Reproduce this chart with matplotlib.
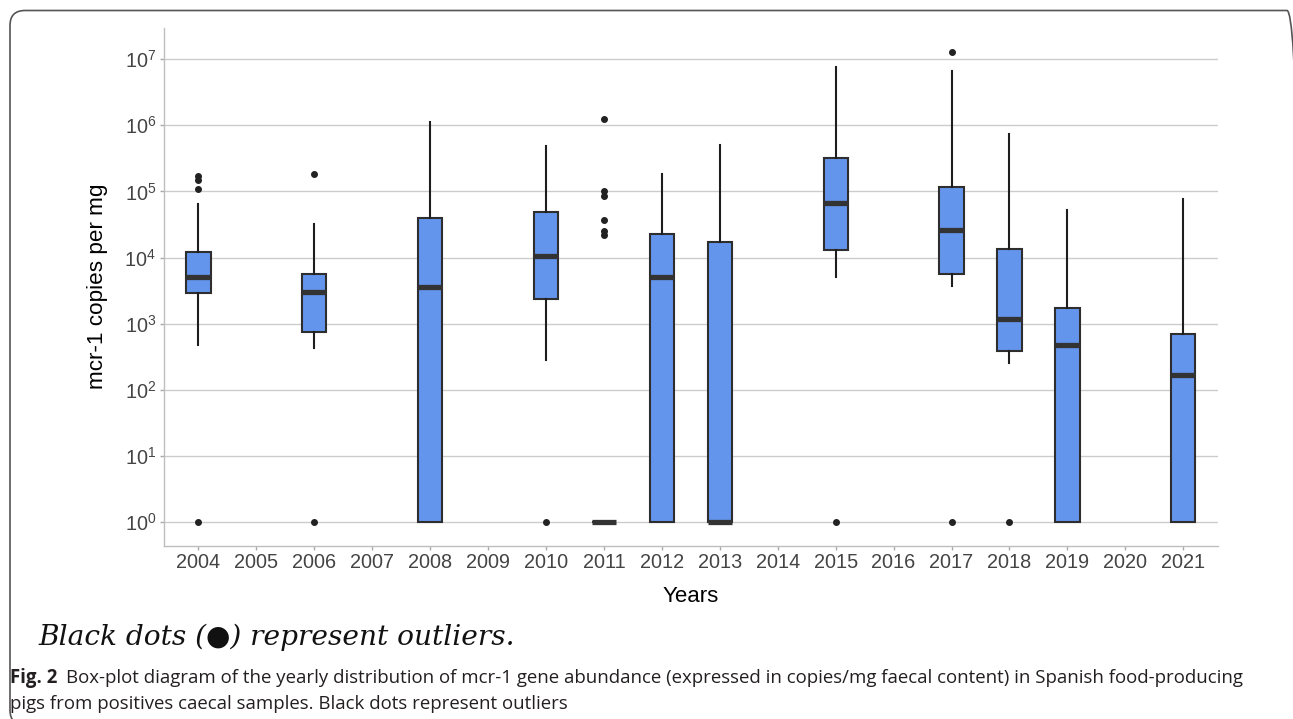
import matplotlib
matplotlib.use("Agg")
import matplotlib.pyplot as plt
import numpy as np
from matplotlib.patches import FancyBboxPatch
from matplotlib.transforms import IdentityTransform

plt.rcParams['font.family'] = ['Liberation Sans', 'DejaVu Sans']
plt.rcParams['mathtext.default'] = 'regular'

# x axis categories (every year, including years without samples)
years = ['2004', '2005', '2006', '2007', '2008', '2009', '2010', '2011', '2012',
         '2013', '2014', '2015', '2016', '2017', '2018', '2019', '2020', '2021']

# box-plot summaries, copies per mg
box_years = ['2004', '2006', '2008', '2010', '2011', '2012', '2013', '2015',
             '2017', '2018', '2019', '2021']
whisker_low = [475, 435, 1, 283, 1, 1, 1, 5100, 3700, 255, 1, 1]
q1 = [2900, 760, 1, 2400, 1, 1, 1, 13000, 5600, 390, 1, 1]
median = [5100, 2970, 3600, 10500, 1, 5000, 1, 67000, 26000, 1180, 470, 170]
q3 = [12000, 5600, 39000, 49000, 1, 22400, 17000, 320000, 117000, 13500, 1730, 690]
whisker_high = [64000, 32000, 1100000, 490000, 1, 180000, 510000, 7600000,
                6600000, 740000, 53000, 76000]
outliers = [
    [1, 1.07e5, 1.5e5, 1.7e5],
    [1, 1.8e5],
    [],
    [1],
    [2.2e4, 2.5e4, 3.7e4, 8.5e4, 1.02e5, 1.24e6],
    [],
    [],
    [1],
    [1, 1.3e7],
    [1],
    [],
    [],
]

W, H = 1293, 719
fig = plt.figure(figsize=(W / 100, H / 100), dpi=100)
ax = fig.add_axes([163.7 / W, 1 - 545.7 / H, (1218 - 163.7) / W, (545.7 - 28) / H])

stats = []
for i in range(len(box_years)):
    stats.append(dict(med=median[i], q1=q1[i], q3=q3[i],
                      whislo=whisker_low[i], whishi=whisker_high[i],
                      fliers=outliers[i], label=box_years[i]))
positions = [years.index(y) for y in box_years]

ax.bxp(stats, positions=positions, widths=0.42, patch_artist=True,
       showcaps=False,
       boxprops=dict(facecolor='#6495ED', edgecolor='#2E2E2E', linewidth=1.5),
       medianprops=dict(color='#333333', linewidth=3.8, solid_capstyle='butt'),
       whiskerprops=dict(color='#1E1E1E', linewidth=1.5),
       flierprops=dict(marker='o', markersize=4, markerfacecolor='#222222',
                       markeredgecolor='#222222'),
       zorder=3)

ax.set_yscale('log')
allvals = [v for s in (whisker_low, whisker_high, sum(outliers, [])) for v in s]
lo, hi = np.log10(min(allvals)), np.log10(max(allvals))
pad = 0.05 * (hi - lo)
ax.set_ylim(10 ** (lo - pad), 10 ** (hi + pad))
ax.set_xlim(-0.6, len(years) - 0.4)

ax.set_yticks([10.0 ** k for k in range(8)])
ax.set_yticklabels([r'$10^{%d}$' % k for k in range(8)])
ax.yaxis.set_minor_locator(matplotlib.ticker.NullLocator())
ax.set_xticks(range(len(years)))
ax.set_xticklabels(years)

ax.grid(axis='y', color='#CCCCCC', linewidth=1.0, zorder=0)
ax.set_axisbelow(True)
for side in ('top', 'right'):
    ax.spines[side].set_visible(False)
for side in ('left', 'bottom'):
    ax.spines[side].set_color('#BEBEBE')
    ax.spines[side].set_linewidth(1.0)
ax.tick_params(axis='both', length=3, width=1.0, color='#AAAAAA',
               labelcolor='#444444', labelsize=14.3)
ax.tick_params(axis='x', pad=2.5)
ax.tick_params(axis='y', pad=2.5)

# axis titles
fig.text(98 / W, 1 - 286 / H, 'mcr-1 copies per mg', rotation=90,
         ha='center', va='center', fontsize=16.2, color='black')
fig.text(690.9 / W, 1 - 597 / H, 'Years', ha='center', va='center',
         fontsize=16, color='black')

renderer = fig.canvas.get_renderer()


def fit_size(txt, target_px):
    # rescale a text so its rendered width is target_px
    w = txt.get_window_extent(renderer).width
    txt.set_fontsize(txt.get_fontsize() * target_px / w)


# note below the plot
note = fig.text(38 / W, 1 - 645 / H, 'Black dots (\u25cf) represent outliers.',
                family=['DejaVu Serif', 'DejaVu Sans'], style='italic',
                fontsize=17, ha='left', va='baseline', color='#111111')
fit_size(note, 478)

# figure caption
cap_font = ['Open Sans', 'DejaVu Sans']
line1 = 'Box-plot diagram of the yearly distribution of mcr-1 gene abundance (expressed in copies/mg faecal content) in Spanish food-producing'
line2 = 'pigs from positives caecal samples. Black dots represent outliers'
probe = fig.text(10 / W, 1 - 683 / H, 'Fig. 2   ' + line1, family=cap_font,
                 fontsize=12.5)
fit_size(probe, 1237)
cap_size = probe.get_fontsize()
probe.remove()

figno = fig.text(10 / W, 1 - 683 / H, 'Fig. 2', family=cap_font, weight='bold',
                 fontsize=cap_size, ha='left', va='baseline', color='#231F20')
bb = figno.get_window_extent(renderer)
fig.text((bb.x1 + 9) / W, 1 - 683 / H, line1, family=cap_font, fontsize=cap_size,
         ha='left', va='baseline', color='#231F20')
fig.text(10 / W, 1 - 709 / H, line2, family=cap_font, fontsize=cap_size,
         ha='left', va='baseline', color='#231F20')

# rounded frame around the figure panel
frame = FancyBboxPatch((10, -6), 1292, H - 10.5 + 6,
                       boxstyle='round,pad=0,rounding_size=15',
                       transform=IdentityTransform(), facecolor='none',
                       edgecolor='#555555', linewidth=1.2)
fig.patches.append(frame)

fig.savefig('out.png', dpi=100)
